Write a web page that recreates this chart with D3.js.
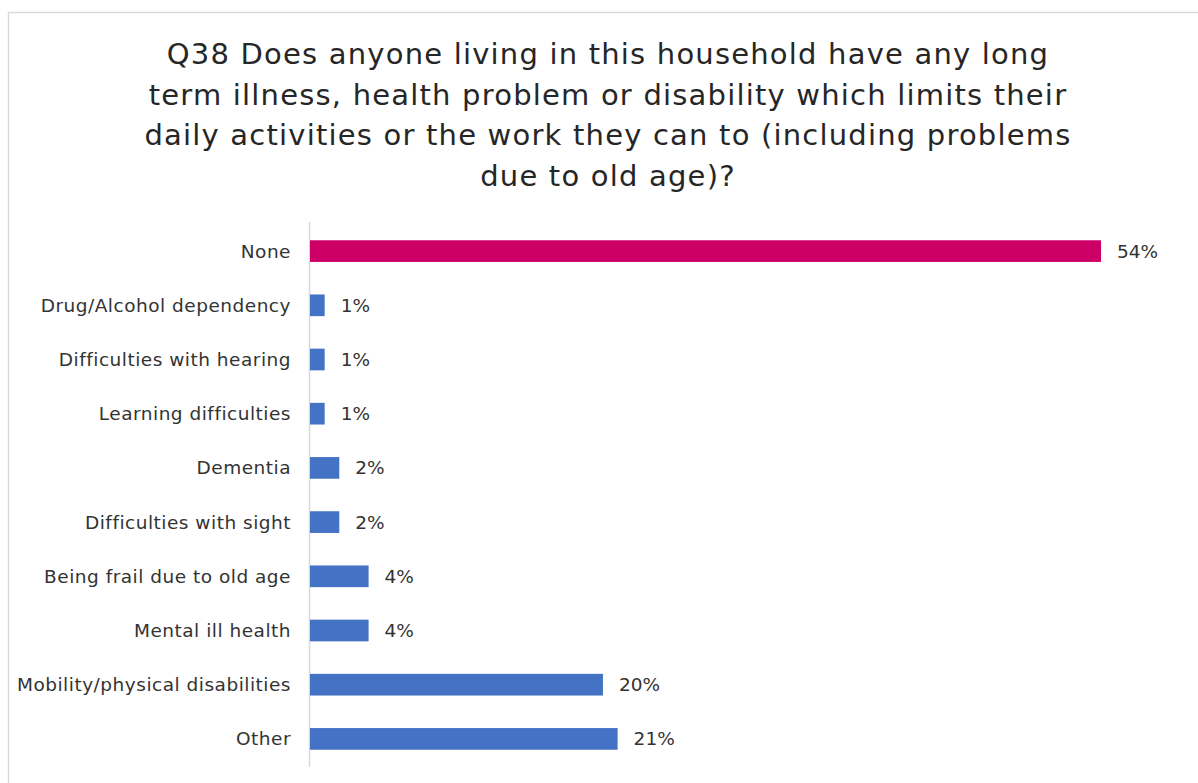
<!DOCTYPE html>
<html>
<head>
<meta charset="utf-8">
<script src="https://cdn.jsdelivr.net/npm/d3@7"></script>
<style>
  html, body { margin: 0; padding: 0; background: #fff; }
  svg { display: block; }
</style>
</head>
<body>
<svg id="chart" width="1198" height="783"></svg>
<script>
// Survey responses, top to bottom
const categories = [
  "None",
  "Drug/Alcohol dependency",
  "Difficulties with hearing",
  "Learning difficulties",
  "Dementia",
  "Difficulties with sight",
  "Being frail due to old age",
  "Mental ill health",
  "Mobility/physical disabilities",
  "Other"
];
const values = [54, 1, 1, 1, 2, 2, 4, 4, 20, 21];
const titleLines = [
  "Q38 Does anyone living in this household have any long",
  "term illness, health problem or disability which limits their",
  "daily activities or the work they can to (including problems",
  "due to old age)?"
];

const svg = d3.select("#chart");
const W = 1198, H = 783;
const FONT = "'Century Gothic', 'DejaVu Sans', sans-serif";

// chart frame
svg.append("rect")
  .attr("x", 8.5).attr("y", 12.5)
  .attr("width", W + 10).attr("height", H + 10)
  .attr("fill", "#fff")
  .attr("stroke", "#d9d9d9").attr("stroke-width", 1.5);

// title
svg.append("g").selectAll("text")
  .data(titleLines)
  .join("text")
  .attr("x", 608)
  .attr("y", (d, i) => 64 + i * 40.5)
  .attr("text-anchor", "middle")
  .attr("font-family", FONT)
  .attr("font-size", 29)
  .attr("letter-spacing", 1.2)
  .attr("fill", "#262626")
  .text(d => d);

const x0 = 310;
const x = d3.scaleLinear().domain([0, 54]).range([x0, 1101]);
const y = d3.scaleBand().domain(categories).range([224, 766]).paddingInner(0.6).paddingOuter(0.3);

// axis line
svg.append("line")
  .attr("x1", x0 - 0.5).attr("x2", x0 - 0.5)
  .attr("y1", 222).attr("y2", 767)
  .attr("stroke", "#d9d9d9").attr("stroke-width", 1.5);

const rows = svg.append("g").selectAll("g")
  .data(categories.map((c, i) => ({ c, v: values[i], i })))
  .join("g");

rows.append("rect")
  .attr("x", x0)
  .attr("y", d => y(d.c))
  .attr("width", d => x(d.v) - x0)
  .attr("height", y.bandwidth())
  .attr("fill", d => d.i === 0 ? "#cc0066" : "#4472c4");

rows.append("text")
  .attr("x", x0 - 19)
  .attr("y", d => y(d.c) + y.bandwidth() / 2)
  .attr("dy", "0.35em")
  .attr("text-anchor", "end")
  .attr("font-family", FONT)
  .attr("font-size", 18.5)
  .attr("letter-spacing", 0.5)
  .attr("fill", "#333")
  .text(d => d.c);

rows.append("text")
  .attr("x", d => x(d.v) + 16)
  .attr("y", d => y(d.c) + y.bandwidth() / 2)
  .attr("dy", "0.35em")
  .attr("font-family", FONT)
  .attr("font-size", 18.5)
  .attr("fill", "#333")
  .text(d => d.v + "%");
</script>
</body>
</html>
